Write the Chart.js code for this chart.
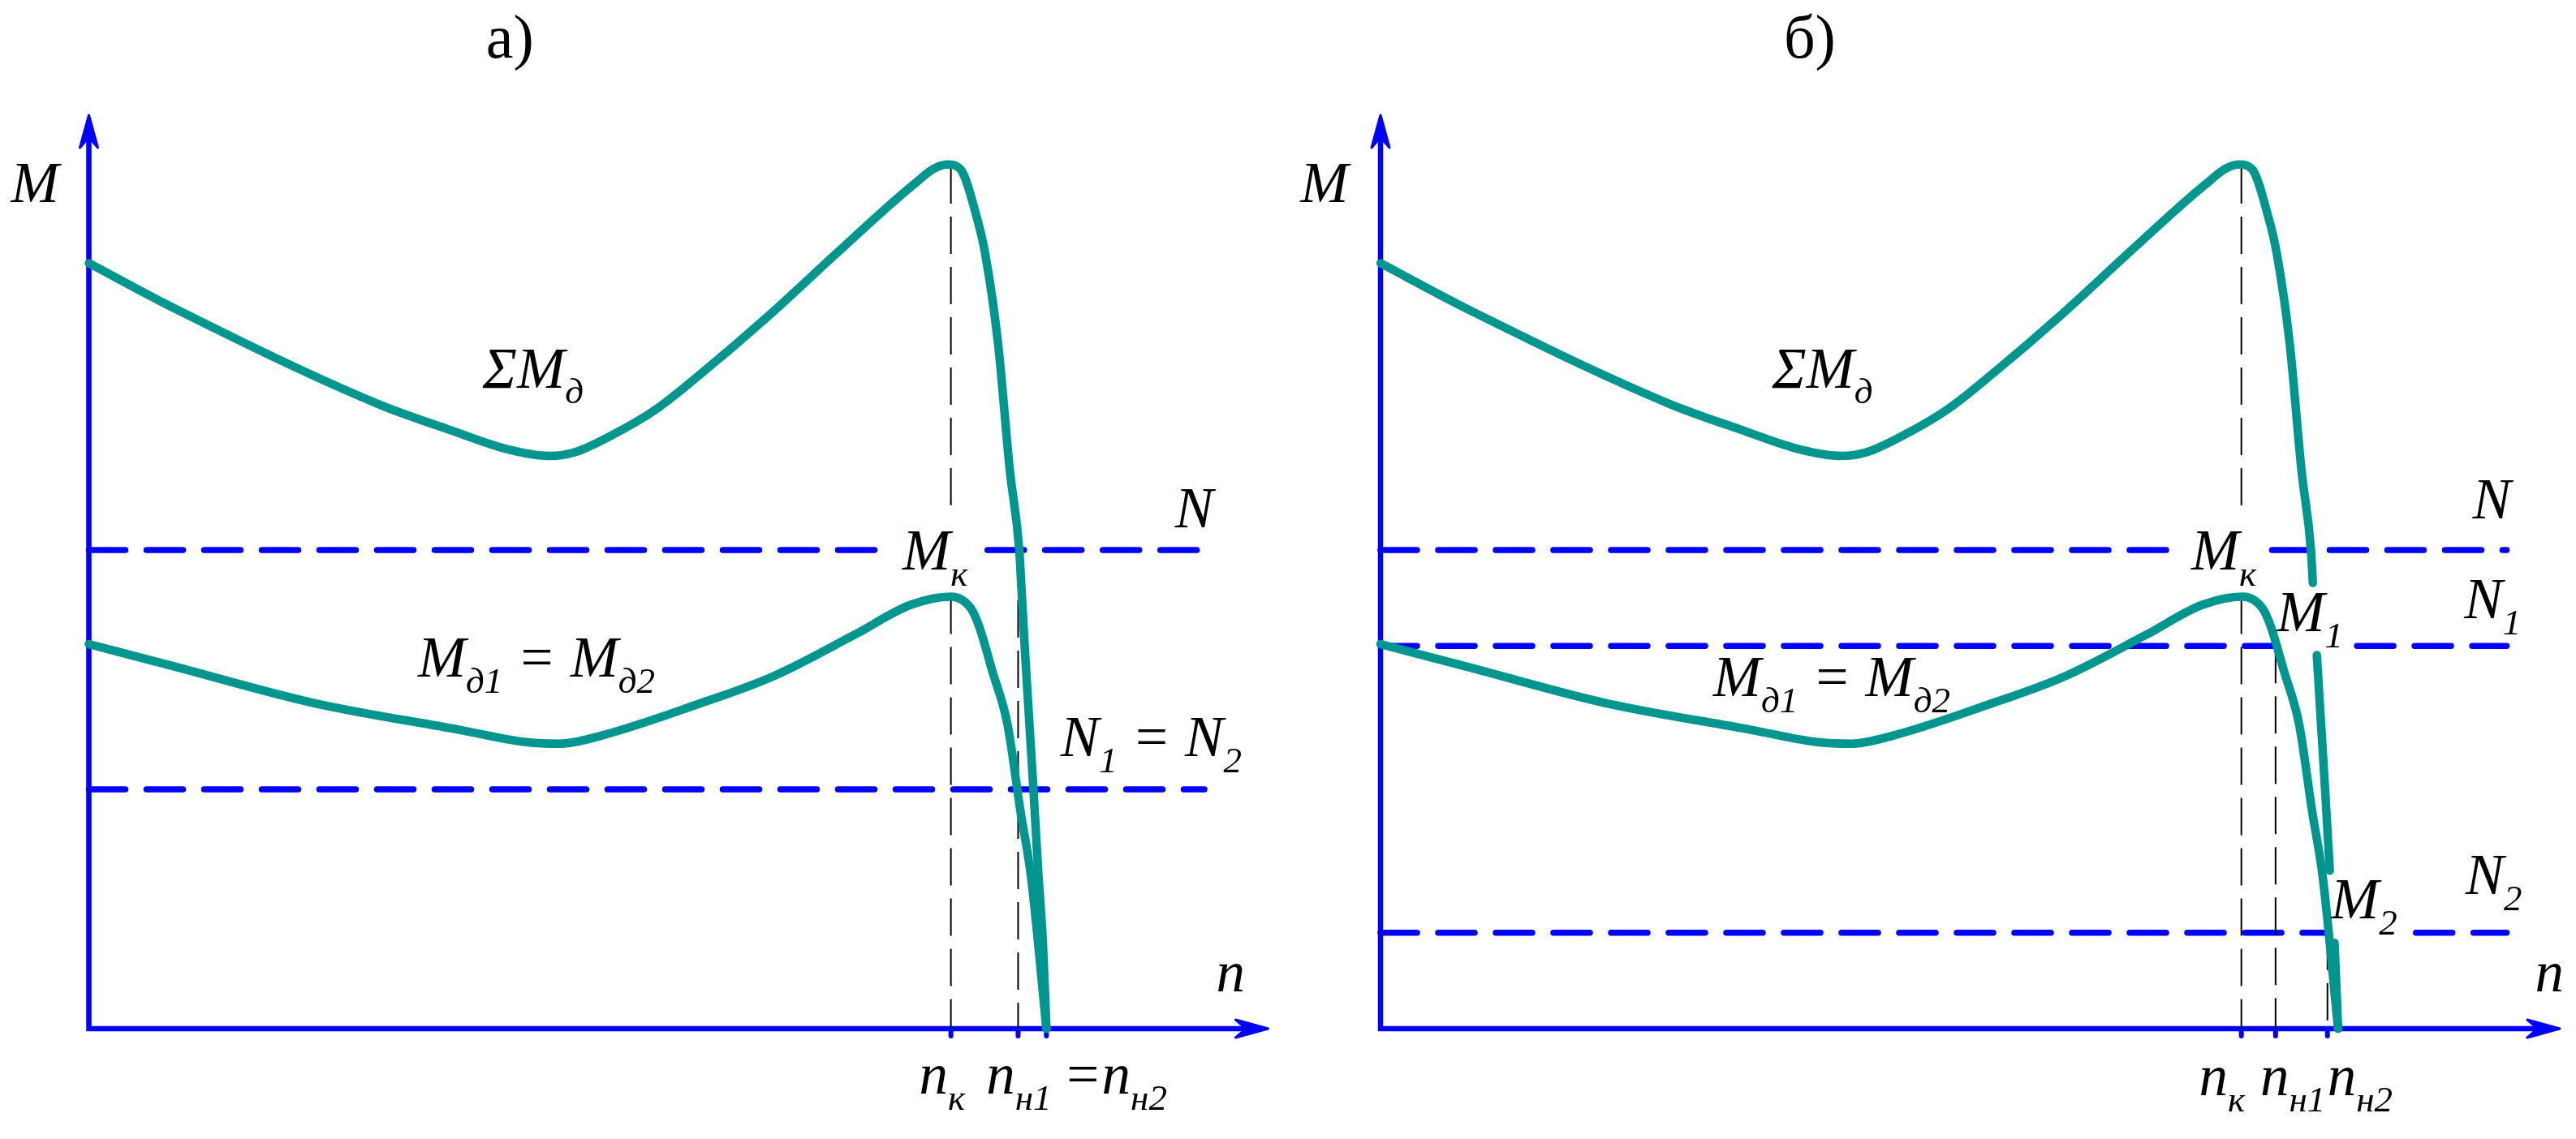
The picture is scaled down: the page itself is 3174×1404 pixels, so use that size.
<!DOCTYPE html>
<html>
<head>
<meta charset="utf-8">
<script src="https://cdn.jsdelivr.net/npm/chart.js@4.4.0/dist/chart.umd.min.js"></script>
<style>
  html, body { margin: 0; padding: 0; background: #fff; }
  #wrap { position: relative; width: 3174px; height: 1404px; }
  canvas { position: absolute; top: 0; }
</style>
</head>
<body>
<div id="wrap">
  <canvas id="panelA" width="1587" height="1404" style="left:0"></canvas>
  <canvas id="panelB" width="1587" height="1404" style="left:1587px"></canvas>
</div>
<script>
// both axes run 0..100 (n to the right, M up)
// curves are the same in both panels
var sumX = [0, 7.5, 24.5, 30.5, 35.6, 39.1, 41.2, 44.4, 48.2, 52.0, 57.6, 63.5, 68.2, 70.3, 71.6, 72.8, 73.9, 75.3, 76.0, 77.1, 78.1, 78.9, 79.06, 79.4, 80.1, 80.5, 80.9, 81.2];
var sumY = [83.8, 78.7, 68.4, 65.6, 63.4, 62.7, 63.1, 65.0, 67.9, 71.8, 78.0, 85.0, 90.5, 92.8, 94.1, 94.6, 94.1, 88.8, 84.9, 75.0, 61.1, 52.4, 48.8, 40.9, 26.2, 17.3, 9.4, 0];
var mdX = [0, 7.4, 18.9, 31.5, 36.9, 39.9, 43.5, 51.6, 57.9, 64.9, 69.7, 73.1, 74.8, 75.5, 76.6, 77.9, 79.0, 79.9, 81.2];
var mdY = [42.1, 39.6, 35.7, 32.7, 31.4, 31.2, 32.1, 35.5, 38.5, 43.1, 46.4, 47.3, 46.0, 44.0, 39.2, 33.3, 23.8, 16.6, 0];

// panel а: N and N1 = N2
var levelsA = [52.4, 26.2];
var levelSpansA = [[[0, 66.8], [76.2, 94.6]], [[0, 94.6]]];
var critA = [73.1, 78.8, 81.2];          // nк, nн1, nн2
var dropsA = [[73.1, [[94.4, 57.3], [47.3, 0]]], [78.8, [[52.4, 0]]]];

// panel б: N, N1, N2
var levelsB = [52.4, 41.9, 10.5];
var levelSpansB = [[[0, 67.8], [75.6, 95.5]], [[0, 75.8], [82.8, 95.5]], [[0, 80.4], [87.8, 95.5]]];
var critB = [73.0, 75.9, 80.3];
var dropsB = [[73.0, [[94.4, 57.1], [47.3, 0]]], [75.9, [[41.9, 0]]], [80.3, [[10.5, 0]]]];
// parts of ΣMд hidden behind the M1 and M2 labels in panel б
var sumGapsB = [[48.8, 40.9], [17.3, 9.4]];

var labelsA = [
  { x: -6.6, y: 90.5, parts: [['M', 0]] },
  { x: 33.4, y: 70.2, parts: [['ΣM', 0], ['д', 1]] },
  { x: 27.9, y: 38.5, parts: [['M', 0], ['д1', 1], [' = ', 0], ['M', 0], ['д2', 1]] },
  { x: 69.0, y: 50.3, parts: [['M', 0], ['к', 1]] },
  { x: 92.1, y: 54.9, parts: [['N', 0]] },
  { x: 82.4, y: 29.8, parts: [['N', 0], ['1', 1], [' = ', 0], ['N', 0], ['2', 1]] },
  { x: 95.6, y: 4.1, parts: [['n', 0]] },
  { x: 70.4, y: -7.1, parts: [['n', 0], ['к', 1]] },
  { x: 76.1, y: -7.1, parts: [['n', 0], ['н1', 1]] },
  { x: 82.6, y: -7.1, parts: [['=n', 0], ['н2', 1]] }
];
var labelsB = [
  { x: -6.8, y: 90.5, parts: [['M', 0]] },
  { x: 33.2, y: 70.2, parts: [['ΣM', 0], ['д', 1]] },
  { x: 28.2, y: 36.4, parts: [['M', 0], ['д1', 1], [' = ', 0], ['M', 0], ['д2', 1]] },
  { x: 68.75, y: 50.3, parts: [['M', 0], ['к', 1]] },
  { x: 76.0, y: 43.5, parts: [['M', 0], ['1', 1]] },
  { x: 80.6, y: 12.1, parts: [['M', 0], ['2', 1]] },
  { x: 92.6, y: 55.9, parts: [['N', 0]] },
  { x: 91.9, y: 44.9, parts: [['N', 0], ['1', 1]] },
  { x: 92.0, y: 14.7, parts: [['N', 0], ['2', 1]] },
  { x: 97.9, y: 4.1, parts: [['n', 0]] },
  { x: 69.4, y: -7.3, parts: [['n', 0], ['к', 1]] },
  { x: 74.6, y: -7.3, parts: [['n', 0], ['н1', 1]] },
  { x: 80.3, y: -7.3, parts: [['n', 0], ['н2', 1]] }
];

var BLUE = '#0000ff';
var TEAL = '#009690';
var FONT = '"Liberation Serif", "Times New Roman", serif';

function pts(xs, ys) {
  return xs.map(function (x, i) { return { x: x, y: ys[i] }; });
}

function drawParts(ctx, parts, x, y, size) {
  var sub = Math.round(size * 0.63), drop = size * 0.28;
  parts.forEach(function (p) {
    ctx.font = 'italic ' + (p[1] ? sub : size) + 'px ' + FONT;
    ctx.fillText(p[0], x, p[1] ? y + drop : y);
    x += ctx.measureText(p[0]).width;
  });
}

function arrow(ctx, tx, ty, dx, dy) {
  var L = 40, W = 11, B = 27, px = -dy, py = dx;
  ctx.beginPath();
  ctx.moveTo(tx, ty);
  ctx.lineTo(tx - dx * L + px * W, ty - dy * L + py * W);
  ctx.lineTo(tx - dx * B, ty - dy * B);
  ctx.lineTo(tx - dx * L - px * W, ty - dy * L - py * W);
  ctx.closePath();
  ctx.fill();
  ctx.lineWidth = 3;
  ctx.lineJoin = 'round';
  ctx.stroke();
}

function makePlugin(cfg) {
  return {
    id: 'diagram',
    beforeDatasetsDraw: function (chart) {
      var ctx = chart.ctx, xs = chart.scales.x, ys = chart.scales.y;
      var x0 = xs.getPixelForValue(0), y0 = ys.getPixelForValue(0);
      var xt = xs.getPixelForValue(xs.max), yt = ys.getPixelForValue(ys.max);
      ctx.save();
      ctx.strokeStyle = BLUE;
      ctx.fillStyle = BLUE;
      ctx.lineWidth = 6.5;
      ctx.lineJoin = 'miter';
      ctx.beginPath();
      ctx.moveTo(x0, yt + 25);
      ctx.lineTo(x0, y0);
      ctx.lineTo(xt - 25, y0);
      ctx.stroke();
      arrow(ctx, x0, yt, 0, -1);
      arrow(ctx, xt, y0, 1, 0);
      ctx.lineWidth = 6;
      ctx.lineCap = 'round';
      cfg.ticks.forEach(function (v) {
        var x = xs.getPixelForValue(v);
        ctx.beginPath();
        ctx.moveTo(x, y0);
        ctx.lineTo(x, y0 + 9);
        ctx.stroke();
      });
      ctx.restore();
    },
    afterDatasetsDraw: function (chart) {
      var ctx = chart.ctx, xs = chart.scales.x, ys = chart.scales.y;
      ctx.save();
      ctx.fillStyle = '#000';
      ctx.textBaseline = 'alphabetic';
      ctx.textAlign = 'left';
      cfg.labels.forEach(function (l) {
        drawParts(ctx, l.parts, xs.getPixelForValue(l.x), ys.getPixelForValue(l.y), 71);
      });
      ctx.font = '76px ' + FONT;
      ctx.textAlign = 'center';
      ctx.fillText(cfg.title, xs.getPixelForValue(cfg.titleX), ys.getPixelForValue(106.3));
      ctx.restore();
    }
  };
}

function makeChart(id, pad, cfg) {
  var datasets = [];
  cfg.levels.forEach(function (level, i) {
    cfg.spans[i].forEach(function (s) {
      datasets.push({
        data: [{ x: s[0], y: level }, { x: s[1], y: level }],
        borderColor: BLUE, borderWidth: 7.5, borderDash: [45, 26],
        borderCapStyle: 'round', order: 6
      });
    });
  });
  cfg.drops.forEach(function (d) {
    d[1].forEach(function (s) {
      datasets.push({
        data: [{ x: d[0], y: s[0] }, { x: d[0], y: s[1] }],
        borderColor: '#000', borderWidth: 2, borderDash: [46, 16], order: 5
      });
    });
  });
  var gaps = cfg.sumGaps;
  datasets.push({
    data: pts(sumX, sumY),
    borderColor: TEAL, borderWidth: 10.5, cubicInterpolationMode: 'monotone',
    borderCapStyle: 'round', borderJoinStyle: 'round', order: 2,
    segment: {
      borderColor: function (c) {
        var a = sumY[c.p0DataIndex], b = sumY[c.p1DataIndex];
        var hide = gaps.some(function (g) { return a <= g[0] + 1e-6 && b >= g[1] - 1e-6; });
        return hide ? 'rgba(0,0,0,0)' : undefined;
      }
    }
  });
  datasets.push({
    data: pts(mdX, mdY),
    borderColor: TEAL, borderWidth: 10.5, cubicInterpolationMode: 'monotone',
    borderCapStyle: 'round', borderJoinStyle: 'round', order: 1
  });
  datasets.forEach(function (d) { d.showLine = true; d.clip = false; d.pointRadius = 0; });

  return new Chart(document.getElementById(id), {
    type: 'scatter',
    data: { datasets: datasets },
    options: {
      responsive: false,
      animation: false,
      devicePixelRatio: 1,
      events: [],
      layout: { padding: pad },
      scales: {
        x: { type: 'linear', min: 0, max: 100, display: false },
        y: { type: 'linear', min: 0, max: 100, display: false }
      },
      plugins: { legend: { display: false }, tooltip: { enabled: false } },
      elements: { point: { radius: 0, hoverRadius: 0 } }
    },
    plugins: [makePlugin(cfg)]
  });
}

makeChart('panelA', { left: 109.5, right: 24.5, top: 142, bottom: 136 }, {
  levels: levelsA, spans: levelSpansA, drops: dropsA, ticks: critA,
  sumGaps: [], labels: labelsA, title: 'а)', titleX: 35.7
});
makeChart('panelB', { left: 114, right: 20, top: 142, bottom: 136 }, {
  levels: levelsB, spans: levelSpansB, drops: dropsB, ticks: critB,
  sumGaps: sumGapsB, labels: labelsB, title: 'б)', titleX: 36.4
});
</script>
</body>
</html>
